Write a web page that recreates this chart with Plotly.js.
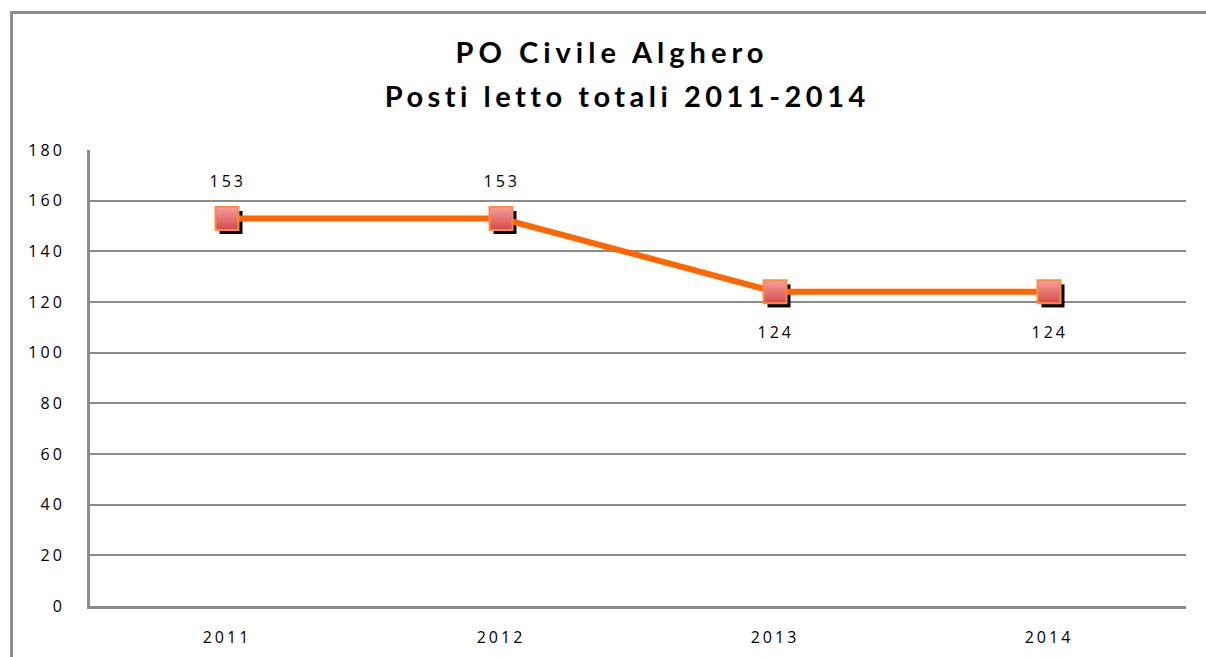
<!DOCTYPE html>
<html>
<head>
<meta charset="utf-8">
<script src="https://cdn.plot.ly/plotly-3.0.1.min.js"></script>
<style>
  html, body { margin: 0; padding: 0; background: #fff; overflow: hidden; }
  #wrap { position: relative; width: 1206px; height: 657px; overflow: hidden; }
  #chart { width: 1206px; height: 657px; }
  #frame { position: absolute; left: 10px; top: 11px; width: 1200px; height: 660px;
           border-left: 3px solid #8c8c8c; border-top: 3px solid #8c8c8c;
           pointer-events: none; box-sizing: border-box; }
  #chart .xtick text, #chart .ytick text, #chart .annotation text { letter-spacing: 3px; }
  #chart .gtitle { letter-spacing: 5px; }
  #chart .annotation.title2 text { letter-spacing: 4.5px; }
</style>
</head>
<body>
<div id="wrap">
  <div id="chart"></div>
  <div id="frame"></div>
</div>
<script>
const years = ['2011', '2012', '2013', '2014'];
const postiLetto = [153, 153, 124, 124];
const labelSide = ['above', 'above', 'below', 'below'];
const yTicks = [0, 20, 40, 60, 80, 100, 120, 140, 160, 180];
const titleLine1 = 'PO Civile Alghero';
const titleLine2 = 'Posti letto totali 2011-2014';

const idx = years.map((_, i) => i);

const shadow = {
  x: idx, y: postiLetto, xaxis: 'x2', yaxis: 'y2',
  type: 'scatter', mode: 'markers', hoverinfo: 'skip',
  marker: { symbol: 'square', size: 23, color: '#000000', line: { width: 0 } },
  showlegend: false
};

const lineTrace = {
  x: idx, y: postiLetto, xaxis: 'x3', yaxis: 'y3', type: 'scatter', mode: 'lines',
  line: { color: '#ff6600', width: 6 }, showlegend: false, hoverinfo: 'skip'
};

const markerTrace = {
  x: idx, y: postiLetto, xaxis: 'x3', yaxis: 'y3', type: 'scatter', mode: 'markers',
  marker: {
    symbol: 'square', size: 23, color: '#f4a0a0',
    gradient: { type: 'vertical', color: '#d84848' },
    line: { color: '#ff8c3a', width: 2 }
  },
  showlegend: false
};

const tickFont = { family: 'Open Sans, sans-serif', size: 16, color: '#000' };
const titleFont = { family: 'Lato, sans-serif', size: 29, color: '#000', weight: 'bold' };

const annotations = idx.map(i => ({
  x: i, y: postiLetto[i], xref: 'x', yref: 'y',
  text: String(postiLetto[i]), showarrow: false,
  yshift: labelSide[i] === 'above' ? 37 : -40,
  font: tickFont
}));
annotations.push({
  text: '<b>' + titleLine2 + '</b>', showarrow: false,
  xref: 'paper', x: (627 - 90) / 1096, xanchor: 'center',
  yref: 'paper', y: 1 + (150 - 96) / 456, yanchor: 'middle',
  font: titleFont
});

const layout = {
  width: 1206, height: 657,
  margin: { l: 90, r: 20, t: 150, b: 51 },
  paper_bgcolor: '#ffffff', plot_bgcolor: '#ffffff',
  title: {
    text: '<b>' + titleLine1 + '</b>',
    font: titleFont,
    x: 612 / 1206, xanchor: 'center', xref: 'container',
    y: 1 - 53 / 657, yanchor: 'middle', yref: 'container'
  },
  xaxis: {
    type: 'linear', range: [-0.5, 3.5],
    tickvals: idx, ticktext: years,
    showgrid: false, zeroline: false,
    showline: true, linecolor: '#8c8c8c', linewidth: 3,
    ticks: '', ticklabelstandoff: 15,
    tickfont: tickFont
  },
  yaxis: {
    range: [0, 180], tickvals: yTicks,
    showgrid: true, gridcolor: '#8c8c8c', gridwidth: 2,
    zeroline: false, showline: true, linecolor: '#8c8c8c', linewidth: 3,
    ticks: '', ticklabelstandoff: 19,
    tickfont: tickFont
  },
  xaxis2: { overlaying: 'x', range: [-0.5 - 4 / 274, 3.5 - 4 / 274], visible: false },
  yaxis2: { overlaying: 'y', range: [1.6, 181.6], visible: false },
  xaxis3: { overlaying: 'x', range: [-0.5, 3.5], visible: false },
  yaxis3: { overlaying: 'y', range: [0, 180], visible: false },
  annotations: annotations,
  showlegend: false
};

Plotly.newPlot('chart', [shadow, lineTrace, markerTrace], layout, { displayModeBar: false, staticPlot: true })
  .then(gd => {
    const anns = gd.querySelectorAll('.annotation');
    const last = anns[anns.length - 1];
    if (last) last.classList.add('title2');
  });
</script>
</body>
</html>
